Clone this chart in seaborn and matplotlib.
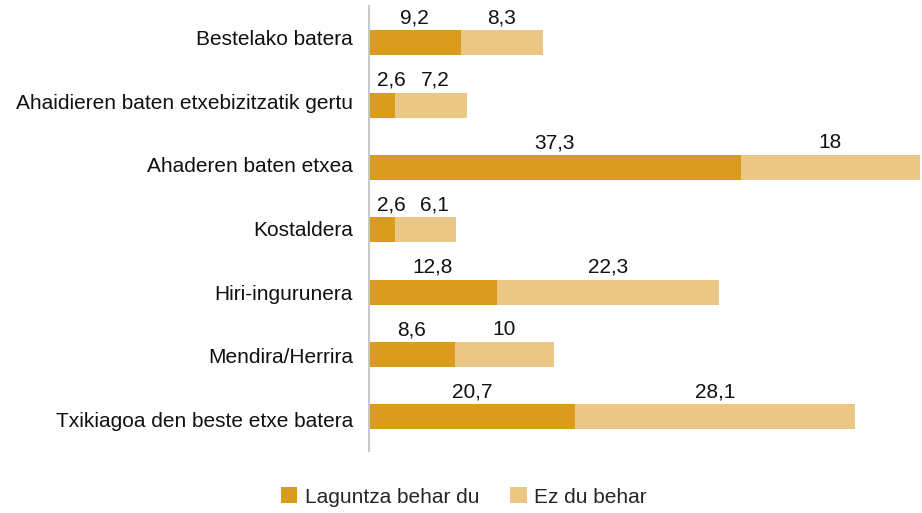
import matplotlib
matplotlib.use("Agg")
import matplotlib.pyplot as plt
import seaborn as sns
import pandas as pd
import numpy as np
from matplotlib.patches import Patch

categories = [
    "Bestelako batera",
    "Ahaidieren baten etxebizitzatik gertu",
    "Ahaderen baten etxea",
    "Kostaldera",
    "Hiri-ingurunera",
    "Mendira/Herrira",
    "Txikiagoa den beste etxe batera",
]
laguntza = [9.2, 2.6, 37.3, 2.6, 12.8, 8.6, 20.7]
ez_du = [8.3, 7.2, 18, 6.1, 22.3, 10, 28.1]
series_names = ["Laguntza behar du", "Ez du behar"]
colors = ["#DA9B1E", "#EAC785"]

sns.set_theme(style="white")
plt.rcParams["font.family"] = ["Liberation Sans", "DejaVu Sans"]

FS = 15

df = pd.DataFrame({"cat": categories, "a": laguntza, "b": ez_du})
df["total"] = df["a"] + df["b"]

fig = plt.figure(figsize=(9.22, 5.13), dpi=100)
ax = fig.add_axes([369 / 922, 1 - 451 / 513, 1 - 369 / 922, (451 - 6) / 513])

sns.barplot(data=df, y="cat", x="total", color=colors[1], orient="h",
            width=0.4, ax=ax, saturation=1, linewidth=0)
sns.barplot(data=df, y="cat", x="a", color=colors[0], orient="h",
            width=0.4, ax=ax, saturation=1, linewidth=0)

n = len(categories)
bounds = np.linspace(-0.59, 6.55, n + 1)
centers = (bounds[:-1] + bounds[1:]) / 2

ax.set_xlim(0, 55.5)
ax.set_ylim(bounds[-1], bounds[0])
ax.set_xlabel("")
ax.set_ylabel("")
ax.set_xticks([])

for s in ["top", "right", "bottom"]:
    ax.spines[s].set_visible(False)
ax.spines["left"].set_color("#C8C8C8")
ax.spines["left"].set_linewidth(1.5)

ax.set_yticks(centers)
ax.set_yticklabels(categories, fontsize=FS, color="#111111")
ax.tick_params(axis="y", which="major", length=0, pad=11.5)
ax.set_yticks(bounds, minor=True)
ax.tick_params(axis="y", which="minor", length=4.5, width=1, color="#C8C8C8", direction="out")

def fmt(v):
    return ("%g" % v).replace(".", ",")

for i, (a, b) in enumerate(zip(laguntza, ez_du)):
    xa = max(a / 2, 2.2)
    xb = max(a + b / 2, xa + 4.4)
    ax.annotate(fmt(a), xy=(xa, i - 0.2), xytext=(0, 2), textcoords="offset points",
                ha="center", va="bottom", fontsize=FS, color="#111111")
    ax.annotate(fmt(b), xy=(xb, i - 0.2), xytext=(0, 2), textcoords="offset points",
                ha="center", va="bottom", fontsize=FS, color="#111111")

handles = [Patch(facecolor=c, edgecolor="none") for c in colors]
fig.legend(handles, series_names, loc="center", bbox_to_anchor=(0.503, 1 - 497 / 513),
           ncol=2, frameon=False, fontsize=FS, handlelength=0.8, handleheight=0.8,
           handletextpad=0.35, columnspacing=1.5)

fig.savefig("out.png", dpi=100)
